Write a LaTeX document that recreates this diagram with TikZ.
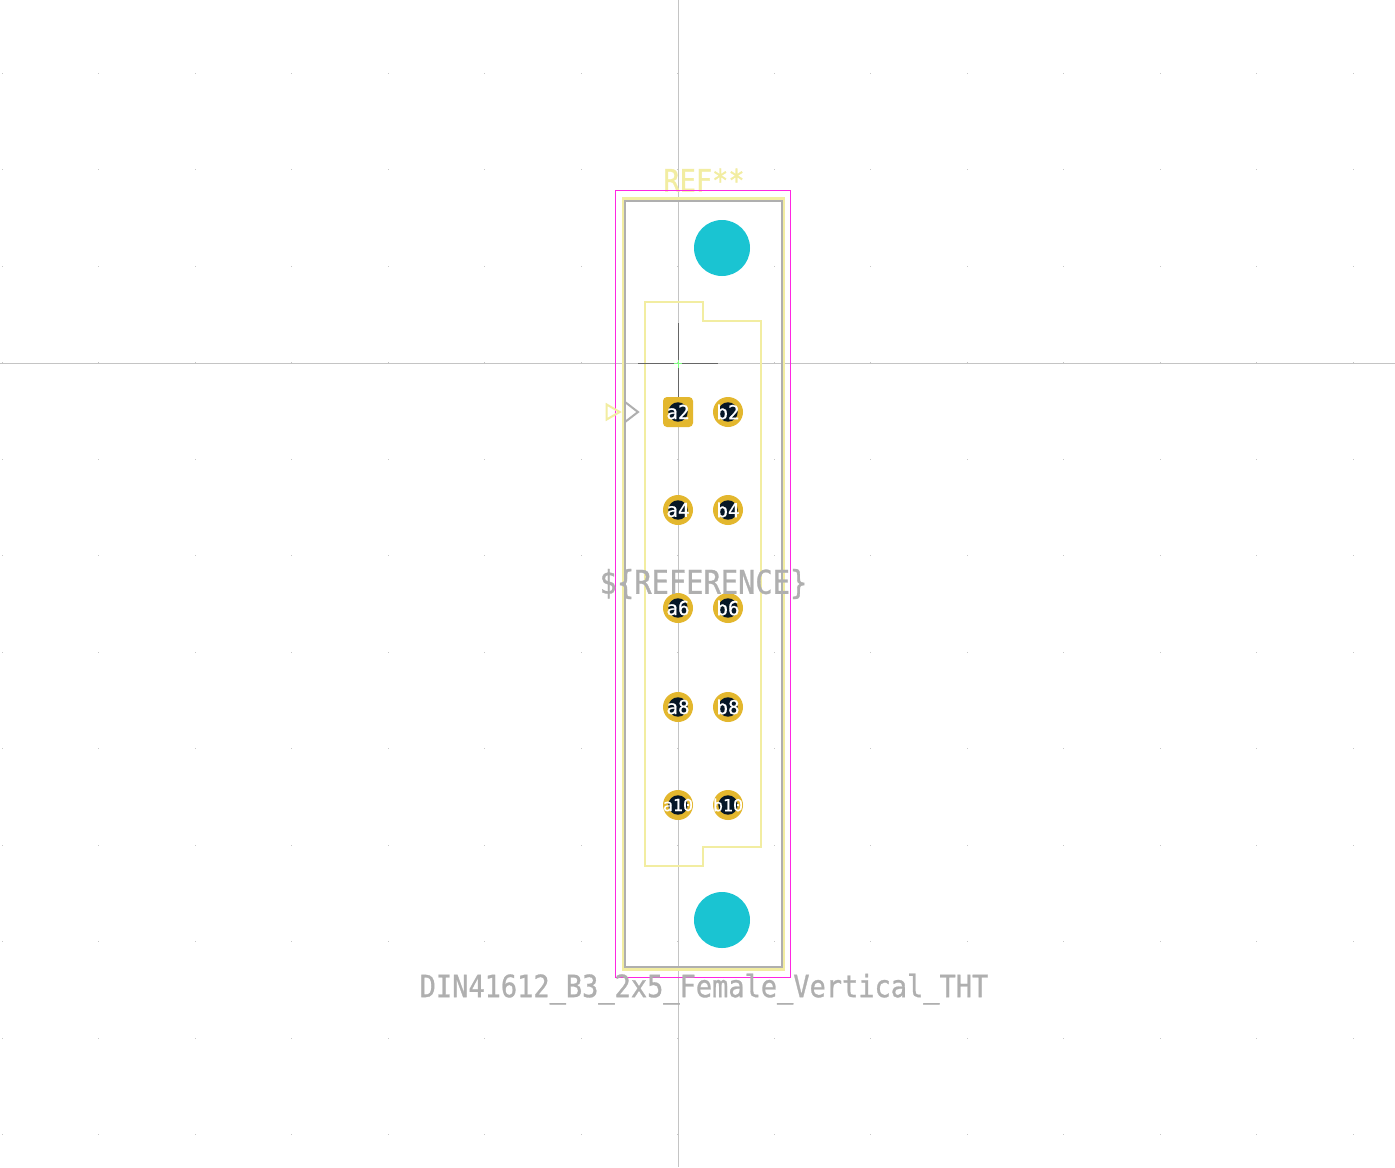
\documentclass[tikz,border=0pt]{standalone}
\usepackage{fontspec}
\setmainfont{DejaVu Sans Mono}
\newfontfamily\strokefont[BoldFont={DejaVu Sans Mono},AutoFakeBold=0.9,FakeStretch=0.88]{DejaVu Sans Mono}
\newfontfamily\padfont[BoldFont={DejaVu Sans Mono},AutoFakeBold=0.7]{DejaVu Sans Mono}
\usetikzlibrary{shapes.geometric}

\begin{document}
\begin{tikzpicture}[x=0.75pt,y=-0.75pt]
	\definecolor{silk}{HTML}{F2EDA1}
	\definecolor{fab}{HTML}{AFAFAF}
	\definecolor{court}{HTML}{FF26E2}
	\definecolor{hole}{HTML}{1AC4D2}
	\definecolor{copper}{HTML}{E3B72E}
	\definecolor{drill}{HTML}{051626}
	\definecolor{axis}{HTML}{C4C4C4}
	\tikzstyle{pad}=[circle, fill = copper, inner sep = 0pt, minimum size = 22.5pt]
	\tikzstyle{padone}=[rectangle, rounded corners = 3pt, fill = copper, inner sep = 0pt, minimum size = 22.5pt]
	\tikzstyle{bore}=[
		circle, fill = drill, inner sep = 0pt, minimum size = 14.6pt,
		text = white, font = \padfont\bfseries\fontsize{14.5pt}{15pt}\selectfont
	]
	\tikzstyle{boresmall}=[bore, font = \padfont\bfseries\fontsize{12.5pt}{13pt}\selectfont]
	\tikzstyle{mount}=[circle, fill = hole, inner sep = 0pt, minimum size = 42pt]
	\tikzstyle{label}=[inner sep = 0pt, text = fab, font = \strokefont\bfseries\fontsize{23pt}{25pt}\selectfont]
	\useasboundingbox[fill=white] (0,0) rectangle (1395,1167);
	% grid
	\foreach \i in {-7,...,7}
		\foreach \j in {-3,...,8}
			\fill[black!22] (677.8+96.5*\i-0.5,362.8+96.5*\j-0.5) rectangle ++(1,1);
	% axes
	\coordinate (top) at (678.5,0);
	\coordinate (bottom) at (678.5,1167);
	\coordinate (left) at (0,363.5);
	\coordinate (right) at (1395,363.5);
	\draw[axis,line width=0.75pt] (top) -- (bottom);
	\draw[axis,line width=0.75pt] (left) -- (right);
	% reference above
	\node[label,text=silk] (ref) at (704,180) {REF**};
	% outlines
	\node[draw=silk,line width=2pt,inner sep=0pt,minimum width=120pt,minimum height=578pt] (silkbox) at (703.5,584) {};
	\node[draw=fab,line width=1.6pt,inner sep=0pt,minimum width=117.5pt,minimum height=575pt] (fabbox) at (703.6,584) {};
	\node[draw=court,line width=0.9pt,inner sep=0pt,minimum width=131pt,minimum height=590pt] (courtbox) at (703,584) {};
	% housing
	\draw[silk,line width=1.5pt] (645,302) -- (703,302) -- (703,321) -- (761,321) -- (761,847)
		-- (703,847) -- (703,866) -- (645,866) -- cycle;
	% mounting holes
	\node[mount] (m1) at (722,248) {};
	\node[mount] (m2) at (722,920) {};
	% origin
	\coordinate (ch1) at (638,363.5);
	\coordinate (ch2) at (718,363.5);
	\coordinate (ch3) at (678.5,323);
	\coordinate (ch4) at (678.5,403);
	\draw[black!60,line width=0.75pt] (ch1) -- (ch2);
	\draw[black!60,line width=0.75pt] (ch3) -- (ch4);
	\coordinate (o1) at (674,363.5);
	\coordinate (o2) at (682,363.5);
	\coordinate (o3) at (678.5,359.5);
	\coordinate (o4) at (678.5,367.5);
	\draw[green!50!white,line width=0.75pt] (o1) -- (o2);
	\draw[green!50!white,line width=0.75pt] (o3) -- (o4);
	% pin one marks
	\node[regular polygon,regular polygon sides=3,shape border rotate=-90,draw=silk,line width=1.5pt,inner sep=0pt,minimum size=13pt] (mark1) at (611,412) {};
	\coordinate (mk1) at (625,402);
	\coordinate (mk2) at (638,412);
	\coordinate (mk3) at (625,422);
	\draw[fab,line width=1.5pt] (mk1) -- (mk2) -- (mk3);
	% pads
	\node[padone] (a2) at (678,412) {};
	\node[pad] (b2) at (728,412) {};
	\node[pad] (a4) at (678,510) {};
	\node[pad] (b4) at (728,510) {};
	\node[pad] (a6) at (678,608) {};
	\node[pad] (b6) at (728,608) {};
	\node[pad] (a8) at (678,707) {};
	\node[pad] (b8) at (728,707) {};
	\node[pad] (a10) at (678,805) {};
	\node[pad] (b10) at (728,805) {};
	\node[bore] (a2t) at (a2) {\makebox[0pt]{a2}};
	\node[bore] (b2t) at (b2) {\makebox[0pt]{b2}};
	\node[bore] (a4t) at (a4) {\makebox[0pt]{a4}};
	\node[bore] (b4t) at (b4) {\makebox[0pt]{b4}};
	\node[bore] (a6t) at (a6) {\makebox[0pt]{a6}};
	\node[bore] (b6t) at (b6) {\makebox[0pt]{b6}};
	\node[bore] (a8t) at (a8) {\makebox[0pt]{a8}};
	\node[bore] (b8t) at (b8) {\makebox[0pt]{b8}};
	\node[boresmall] (a10t) at (a10) {\makebox[0pt]{a10}};
	\node[boresmall] (b10t) at (b10) {\makebox[0pt]{b10}};
	% texts
	\node[label,font=\strokefont\bfseries\fontsize{24.5pt}{26pt}\selectfont] (refmid) at (703.5,584) {\$\{REFERENCE\}};
	\node[label] (value) at (704,989) {DIN41612\_B3\_2x5\_Female\_Vertical\_THT};
\end{tikzpicture}
\end{document}
